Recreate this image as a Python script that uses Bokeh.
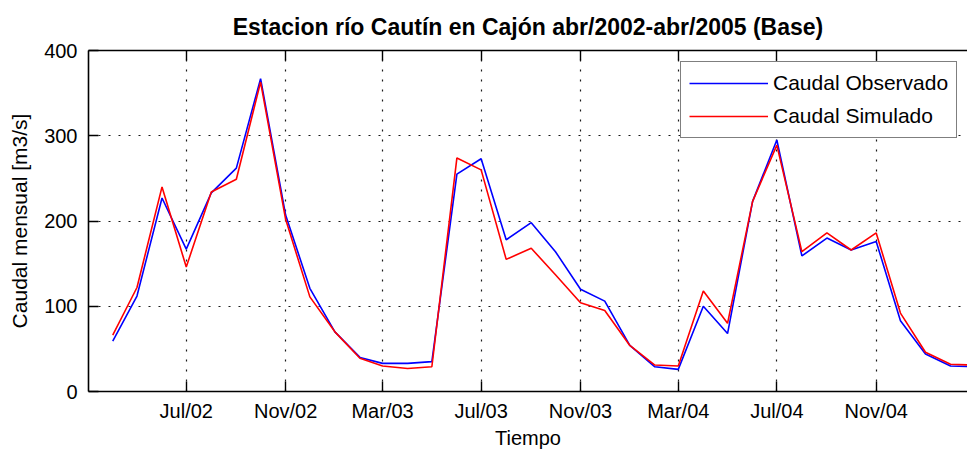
import pandas as pd
from bokeh.plotting import figure
from bokeh.models import (DatetimeAxis, FixedTicker, DatetimeTickFormatter, Range1d,
                          Legend, LegendItem, CustomJSTickFormatter)
from bokeh.embed import file_html
from bokeh.resources import INLINE

# ---- data -------------------------------------------------------------
months = pd.date_range(start="2002-04-01", periods=37, freq="MS")
caudal_observado = [59, 112, 227, 167, 233, 262, 367, 207, 121, 70, 40, 33, 33,
                    35, 255, 273, 178, 198, 164, 120, 106, 54, 29, 26, 100, 68,
                    223, 295, 159, 180, 166, 176, 83, 44, 30, 29, 29]
caudal_simulado = [66, 122, 240, 146, 234, 249, 363, 202, 111, 70, 39, 30, 27,
                   29, 274, 260, 155, 168, 137, 104, 95, 54, 31, 30, 118, 80,
                   223, 289, 164, 186, 166, 186, 92, 46, 32, 31, 31]
tick_dates = ["2002-07-01", "2002-11-01", "2003-03-01", "2003-07-01",
              "2003-11-01", "2004-03-01", "2004-07-01", "2004-11-01"]
y_ticks = [0, 100, 200, 300, 400]

title_text = "Estacion río Cautín en Cajón abr/2002-abr/2005 (Base)"
xlabel = "Tiempo"
ylabel = "Caudal mensual [m3/s]"
series_labels = ["Caudal Observado", "Caudal Simulado"]

# ---- figure -----------------------------------------------------------
FONT = "Liberation Sans"
tick_ms = [pd.Timestamp(d).value // 10**6 for d in tick_dates]
x0 = pd.Timestamp("2002-03-02")
x1 = pd.Timestamp("2005-02-22")

p = figure(width=967, height=451, x_axis_type="datetime",
           x_range=Range1d(x0, x1), y_range=Range1d(0, 400),
           output_backend="svg", toolbar_location=None,
           min_border_left=88, min_border_right=0,
           min_border_top=0, min_border_bottom=60)
p.outline_line_color = None
p.background_fill_color = "white"
p.border_fill_color = "white"

p.title.text = title_text
p.title.text_font = FONT
p.title.text_font_size = "23px"
p.title.text_font_style = "bold"
p.title.align = "center"
p.title.text_color = "black"
p.title.standoff = 10
try:
    p.title.padding = 6
except Exception:
    p.min_border_top = 50

fmt = DatetimeTickFormatter(microseconds="%b/%y", milliseconds="%b/%y", seconds="%b/%y",
                            minsec="%b/%y", minutes="%b/%y", hourmin="%b/%y",
                            hours="%b/%y", days="%b/%y", months="%b/%y", years="%b/%y")

xa = p.xaxis[0]
xa.ticker = FixedTicker(ticks=tick_ms)
xa.formatter = fmt
xa.major_tick_in = 10
xa.major_tick_out = 0
xa.minor_tick_in = 0
xa.minor_tick_out = 0
xa.axis_line_width = 1.6
xa.axis_line_color = "black"
xa.major_tick_line_color = "black"
xa.major_tick_line_width = 1.4
xa.major_label_text_font = FONT
xa.major_label_text_font_size = "20px"
xa.major_label_text_color = "black"
xa.major_label_standoff = 8
xa.axis_label = xlabel
xa.axis_label_text_font = FONT
xa.axis_label_text_font_size = "20px"
xa.axis_label_text_font_style = "normal"
xa.axis_label_text_color = "black"
xa.axis_label_standoff = 2

ya = p.yaxis[0]
ya.ticker = FixedTicker(ticks=y_ticks)
ya.major_tick_in = 10
ya.major_tick_out = 0
ya.minor_tick_in = 0
ya.minor_tick_out = 0
ya.axis_line_width = 1.6
ya.axis_line_color = "black"
ya.major_tick_line_color = "black"
ya.major_tick_line_width = 1.4
ya.major_label_text_font = FONT
ya.major_label_text_font_size = "20px"
ya.major_label_text_color = "black"
ya.major_label_standoff = 11
ya.axis_label = ylabel
ya.axis_label_text_font = FONT
ya.axis_label_text_font_size = "21px"
ya.axis_label_text_font_style = "normal"
ya.axis_label_text_color = "black"
ya.axis_label_standoff = 10

top = DatetimeAxis(ticker=FixedTicker(ticks=tick_ms),
                   formatter=CustomJSTickFormatter(code="return ''"),
                   major_tick_in=10, major_tick_out=0, minor_tick_in=0, minor_tick_out=0,
                   axis_line_width=1.6, axis_line_color="black",
                   major_tick_line_color="black", major_tick_line_width=1.4,
                   major_label_text_font_size="0px", major_label_standoff=8)
p.add_layout(top, "above")

for g in (p.xgrid[0], p.ygrid[0]):
    g.grid_line_color = "black"
    g.grid_line_dash = "2 8"
    g.grid_line_width = 1.2
    g.grid_line_alpha = 0.9

r_obs = p.line(months, caudal_observado, line_color="#0000ff", line_width=1.6)
r_sim = p.line(months, caudal_simulado, line_color="#ff0000", line_width=1.6)

legend = Legend(items=[LegendItem(label=series_labels[0], renderers=[r_obs]),
                       LegendItem(label=series_labels[1], renderers=[r_sim])],
                location=(592, 253))
legend.border_line_color = "black"
legend.border_line_width = 1.5
legend.background_fill_color = "white"
legend.background_fill_alpha = 1
legend.label_text_font = FONT
legend.label_text_font_size = "21px"
legend.label_text_color = "black"
legend.glyph_width = 79
legend.glyph_height = 26
legend.label_height = 26
legend.label_standoff = 5
legend.spacing = 7
legend.padding = 8
legend.margin = 0
p.add_layout(legend, "center")

open("out.html", "w").write(file_html(p, INLINE))
